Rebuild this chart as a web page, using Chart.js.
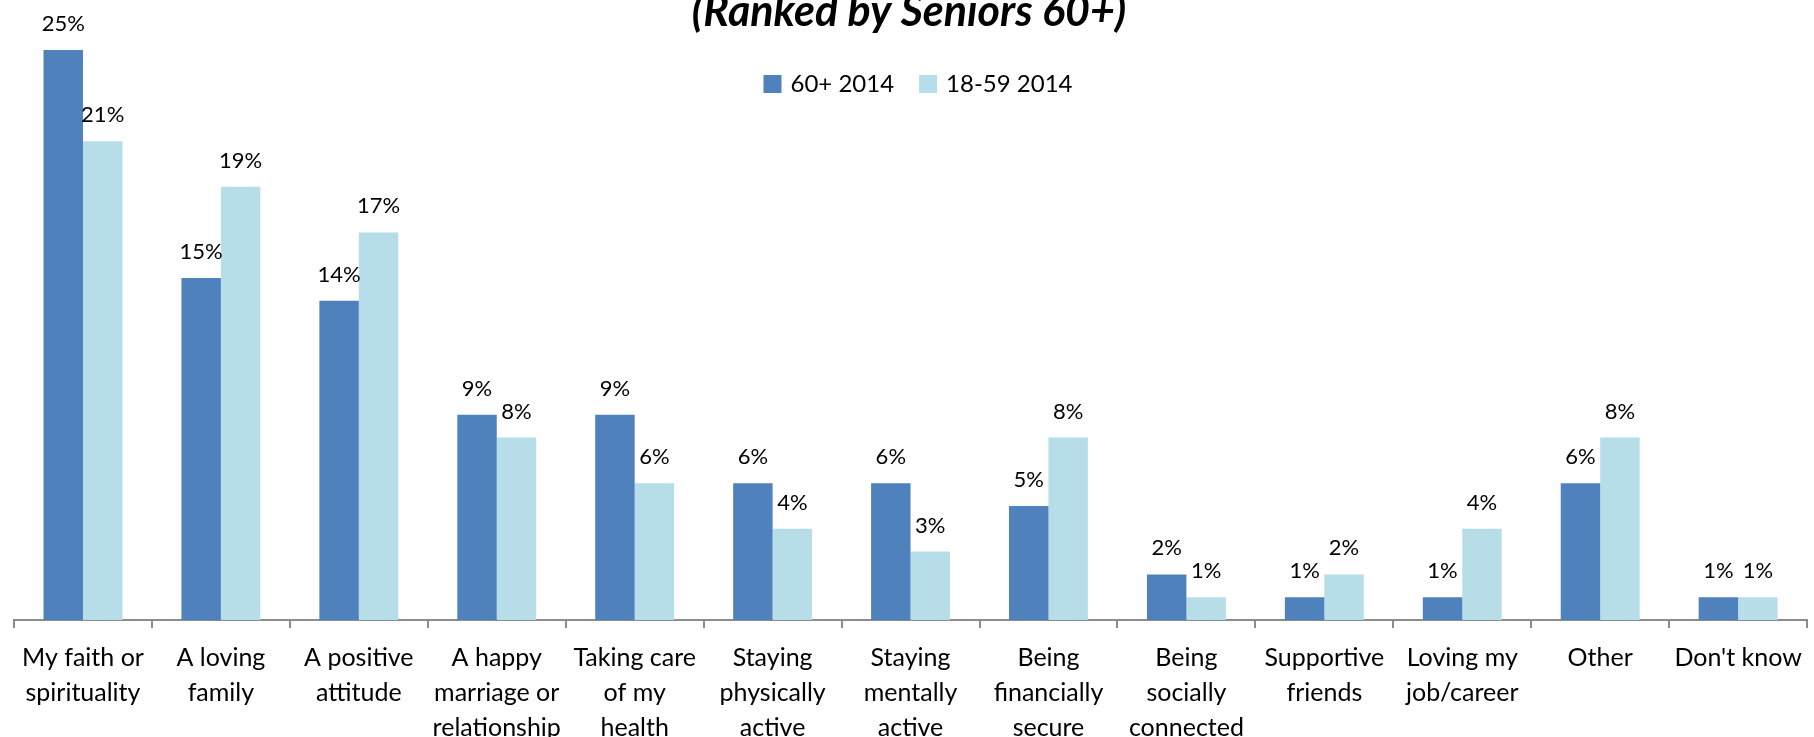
<!DOCTYPE html>
<html>
<head>
<meta charset="utf-8">
<script src="https://cdn.jsdelivr.net/npm/chart.js@4.4.1/dist/chart.umd.min.js"></script>
<style>
html, body { margin: 0; padding: 0; background: #fff; }
#contenedor { width: 1814px; height: 737px; }
</style>
</head>
<body>
<div id="contenedor"><canvas id="grafico"></canvas></div>
<script>
const categorias = [
    ["My faith or", "spirituality"],
    ["A loving", "family"],
    ["A positive", "attitude"],
    ["A happy", "marriage or", "relationship"],
    ["Taking care", "of my", "health"],
    ["Staying", "physically", "active"],
    ["Staying", "mentally", "active"],
    ["Being", "financially", "secure"],
    ["Being", "socially", "connected"],
    ["Supportive", "friends"],
    ["Loving my", "job/career"],
    ["Other"],
    ["Don't know"]
];
const seniors2014 = [25, 15, 14, 9, 9, 6, 6, 5, 2, 1, 1, 6, 1];
const jovenes2014 = [21, 19, 17, 8, 6, 4, 3, 8, 1, 2, 4, 8, 1];
const nombresSeries = ["60+ 2014", "18-59 2014"];
const coloresSeries = ["#4F81BD", "#B7DDE8"];
const titulo = "(Ranked by Seniors 60+)";

// etiquetas, titulo y leyenda dibujados a mano
const extras = {
    id: 'extras',
    afterDatasetsDraw(chart) {
        const ctx = chart.ctx;
        ctx.save();
        ctx.fillStyle = '#000';
        ctx.textAlign = 'center';
        ctx.textBaseline = 'middle';
        ctx.font = '22px Lato';
        chart.data.datasets.forEach((ds, i) => {
            chart.getDatasetMeta(i).data.forEach((barra, j) => {
                ctx.fillText(ds.data[j] + '%', barra.x, barra.y - 26);
            });
        });

        ctx.font = 'italic bold 43px Lato';
        ctx.textBaseline = 'alphabetic';
        ctx.fillText(titulo, chart.width / 2 + 2, 26);

        // leyenda
        ctx.font = '24px Lato';
        ctx.textAlign = 'left';
        ctx.textBaseline = 'middle';
        const caja = 18, hueco = 9, separacion = 25;
        let total = 0;
        const anchos = chart.data.datasets.map(ds => ctx.measureText(ds.label).width);
        anchos.forEach((w, i) => { total += caja + hueco + w + (i > 0 ? separacion : 0); });
        let x = chart.width / 2 + 11 - total / 2;
        const y = 84;
        chart.data.datasets.forEach((ds, i) => {
            ctx.fillStyle = ds.backgroundColor;
            ctx.fillRect(x, y - caja / 2, caja, caja);
            ctx.fillStyle = '#000';
            ctx.fillText(ds.label, x + caja + hueco, y);
            x += caja + hueco + anchos[i] + separacion;
        });
        ctx.restore();
    }
};

const ctx = document.getElementById("grafico");
const graficoBarras = new Chart(ctx, {
    type: "bar",
    data: {
        labels: categorias,
        datasets: [
            { label: nombresSeries[0], data: seniors2014, backgroundColor: coloresSeries[0] },
            { label: nombresSeries[1], data: jovenes2014, backgroundColor: coloresSeries[1] }
        ]
    },
    options: {
        responsive: true,
        maintainAspectRatio: false,
        animation: false,
        layout: { padding: { top: 50, left: 14, right: 4, bottom: 0 } },
        datasets: { bar: { categoryPercentage: 0.572, barPercentage: 1 } },
        plugins: {
            legend: { display: false },
            title: { display: false },
            tooltip: { enabled: false }
        },
        scales: {
            x: {
                grid: { drawOnChartArea: false, drawTicks: true, tickLength: 8, color: '#8c8c8c', offset: true, lineWidth: 2 },
                border: { color: '#8c8c8c', width: 2 },
                ticks: {
                    color: '#000',
                    font: { family: 'Lato', size: 25, lineHeight: 1.4 },
                    maxRotation: 0,
                    autoSkip: false,
                    padding: 12
                },
                afterFit: function (escala) { escala.height = 117; }
            },
            y: { display: false, min: 0, max: 25 }
        }
    },
    plugins: [extras]
});
</script>
</body>
</html>
